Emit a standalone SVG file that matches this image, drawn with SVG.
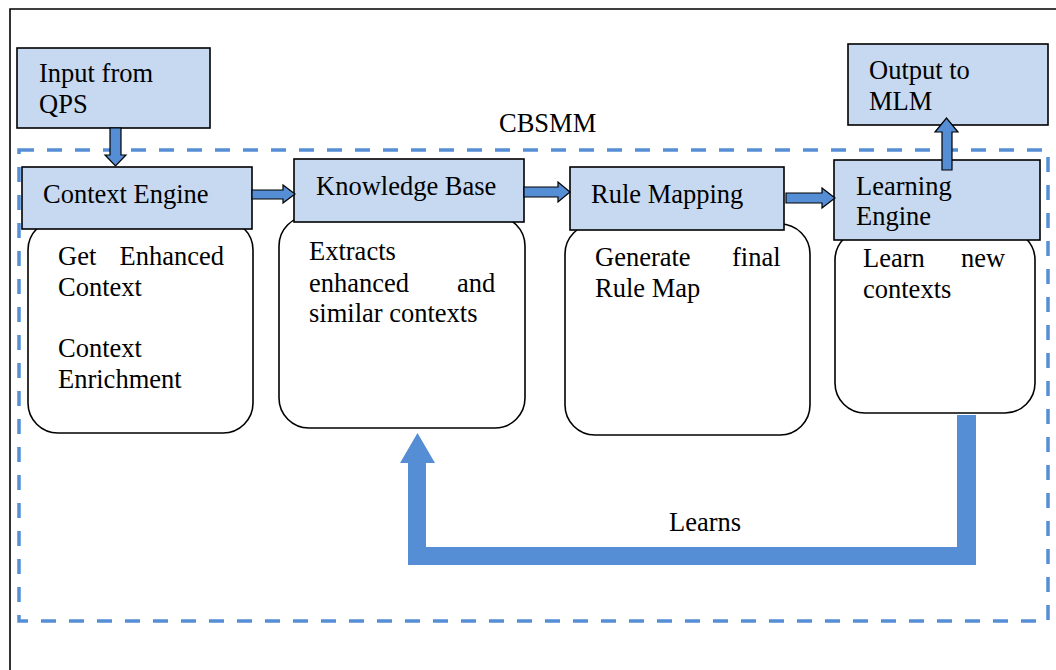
<svg xmlns="http://www.w3.org/2000/svg" width="1056" height="670" viewBox="0 0 1056 670">
<style>
text{font-family:"Liberation Serif","Times New Roman",serif;font-size:26.5px;fill:#000}
.hdr{fill:#C6D9F1;stroke:#000;stroke-width:1.6}
.body{fill:#fff;stroke:#000;stroke-width:1.6}
.sarrow{fill:#558ED5;stroke:#000;stroke-width:1.2;stroke-linejoin:miter}
.big{fill:#558ED5;stroke:none}
</style>
<rect x="0" y="0" width="1056" height="670" fill="#fff"/>
<path d="M10,670 V9 H1056" fill="none" stroke="#000" stroke-width="1.6"/>
<g id="cbsmm">
<rect x="19" y="150" width="1029" height="471" fill="none" stroke="#558ED5" stroke-width="3.5" stroke-dasharray="15 13"/>
<text x="499" y="132">CBSMM</text>
</g>
<g id="input">
<rect class="hdr" x="17" y="48" width="193" height="80"/>
<text x="39" y="82">Input from</text>
<text x="39" y="113">QPS</text>
</g>
<g id="output">
<rect class="hdr" x="848" y="44" width="200" height="81"/>
<text x="869" y="79">Output to</text>
<text x="869" y="110">MLM</text>
</g>
<g id="context-engine">
<rect class="body" x="28" y="220" width="225" height="213" rx="30" ry="30"/>
<rect class="hdr" x="22" y="167" width="230" height="62"/>
<text x="43" y="203">Context Engine</text>
<text x="58" y="265">Get<tspan x="119.5">Enhanced</tspan></text>
<text x="58" y="296">Context</text>
<text x="58" y="357">Context</text>
<text x="58" y="388">Enrichment</text>
</g>
<g id="knowledge-base">
<rect class="body" x="279" y="216" width="246" height="212" rx="30" ry="30"/>
<rect class="hdr" x="294" y="159" width="230" height="63"/>
<text x="316" y="195">Knowledge Base</text>
<text x="309" y="260">Extracts</text>
<text x="309" y="292">enhanced<tspan x="457">and</tspan></text>
<text x="309" y="322">similar contexts</text>
</g>
<g id="rule-mapping">
<rect class="body" x="565" y="224" width="245" height="211" rx="30" ry="30"/>
<rect class="hdr" x="570" y="167" width="214" height="63"/>
<text x="591" y="203">Rule Mapping</text>
<text x="595" y="266">Generate<tspan x="732">final</tspan></text>
<text x="595" y="297">Rule Map</text>
</g>
<g id="learning-engine">
<rect class="body" x="835" y="230" width="200" height="183" rx="30" ry="30"/>
<rect class="hdr" x="834" y="160" width="206" height="80"/>
<text x="856" y="195">Learning</text>
<text x="856" y="225">Engine</text>
<text x="863" y="267">Learn<tspan x="961">new</tspan></text>
<text x="863" y="298">contexts</text>
</g>
<g id="connectors">
<polygon class="sarrow" points="110,128 121,128 121,155 126,155 115.5,166 105,155 110,155"/>
<polygon class="sarrow" points="252,190 283,190 283,185 295,194 283,203 283,199 252,199"/>
<polygon class="sarrow" points="524,187 558,187 558,182 570,192 558,202 558,197 524,197"/>
<polygon class="sarrow" points="786,193 822,193 822,188 835,198 822,208 822,203 786,203"/>
<polygon class="sarrow" points="942,170 942,132 935,132 946.5,118 958,132 952,132 952,170"/>
<polygon class="big" points="957,415 976,415 976,565 408,565 408,463 400,463 417.5,433 435,463 426,463 426,547 957,547"/>
<text x="669" y="531">Learns</text>
</g>
</svg>
